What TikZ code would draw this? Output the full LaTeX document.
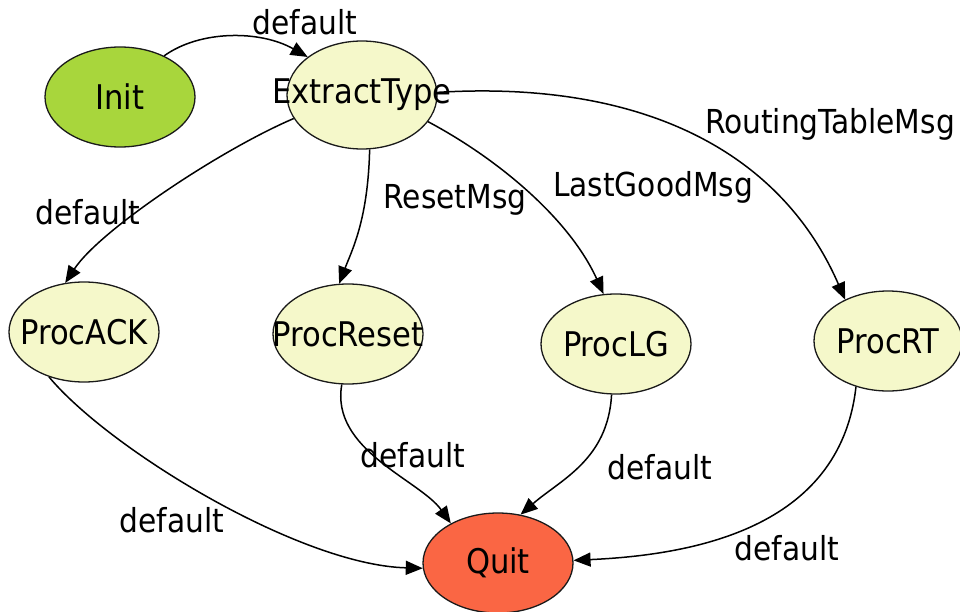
\documentclass[tikz,border=0pt]{standalone}
\usepackage{fontspec}
\setmainfont{DejaVu Sans Condensed}
\usetikzlibrary{arrows.meta,shapes.geometric}
\definecolor{initgreen}{HTML}{A8D63C}
\definecolor{statecream}{HTML}{F5F8CA}
\definecolor{quitred}{HTML}{FA6644}
\definecolor{edgeline}{HTML}{1A1A1A}
% state names may overhang their ellipse, so they take no width
\newcommand{\statename}[1]{\makebox[0pt]{#1}}
\tikzset{
  state/.style={ellipse, draw=edgeline, line width=1.3pt, minimum width=150pt,
    minimum height=100pt, inner sep=0pt, fill=statecream,
    font=\fontsize{34}{40}\selectfont},
  trans/.style={draw=black, line width=1.5pt,
    -{Triangle[length=17pt,width=14pt]}},
  tlabel/.style={font=\fontsize{33}{39}\selectfont, inner sep=0pt}
}
\begin{document}
\begin{tikzpicture}[x=1pt,y=-1pt]
\useasboundingbox (0,0) rectangle (960,612);

% states
\node[state, fill=initgreen] (init) at (120,97) {\statename{Init}};
\node[state, minimum height=108pt] (ext) at (362,95) {\statename{ExtractType}};
\node[state] (ack) at (84,332) {\statename{ProcACK}};
\node[state] (reset) at (348,334) {\statename{ProcReset}};
\node[state] (lg) at (616,344) {\statename{ProcLG}};
\node[state, minimum width=148pt] (rt) at (888,341) {\statename{ProcRT}};
\node[state, fill=quitred] (quit) at (498,563) {\statename{Quit}};

% transitions
\draw[trans] (init.43) .. controls (200,30) and (260,30) .. (ext.145);
\draw[trans] (ext.199) .. controls (220,150) and (100,230) .. (ack.111);
\draw[trans] (ext.-82) .. controls (368,220) and (352,250) .. (reset.100);
\draw[trans] (ext.-22) .. controls (500,160) and (570,220) .. (lg.104);
\draw[trans] (ext.2) .. controls (640,80) and (780,150) .. (rt.136);
\draw[trans] (ack.232) .. controls (110,450) and (300,565) .. (quit.184);
\draw[trans] (reset.-97) .. controls (330,450) and (420,480) .. (quit.140);
\draw[trans] (lg.-95) .. controls (608,460) and (560,480) .. (quit.65);
\draw[trans] (rt.235) .. controls (840,530) and (690,555) .. (quit.2);

% transition labels
\node[tlabel] (l1) at (305,22) {default};
\node[tlabel] (l2) at (88,212) {default};
\node[tlabel] (l3) at (455,200) {ResetMsg};
\node[tlabel] (l4) at (653,187) {LastGoodMsg};
\node[tlabel] (l5) at (830,124) {RoutingTableMsg};
\node[tlabel] (l6) at (172,520) {default};
\node[tlabel] (l7) at (413,455) {default};
\node[tlabel] (l8) at (660,467) {default};
\node[tlabel] (l9) at (787,548) {default};
\end{tikzpicture}
\end{document}
